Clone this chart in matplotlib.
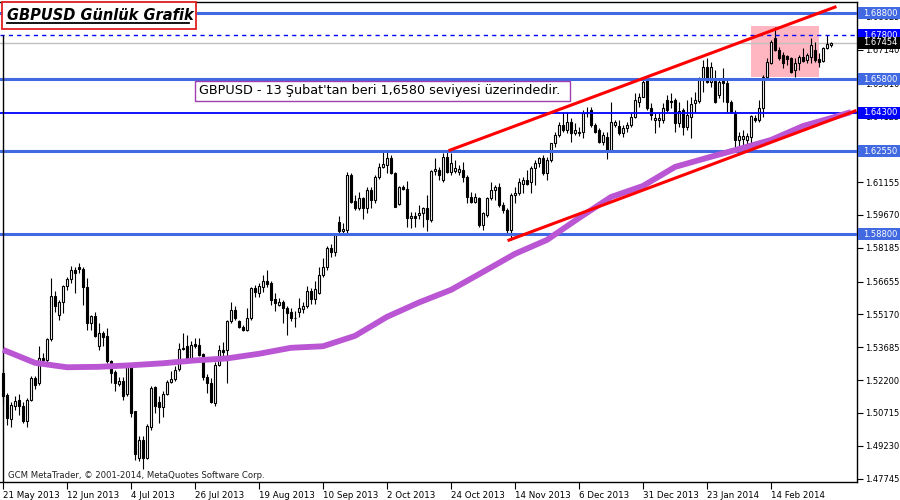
import numpy as np
import matplotlib
matplotlib.use("Agg")
import matplotlib.pyplot as plt
from matplotlib.patches import Rectangle
from matplotlib.lines import Line2D

plt.rcParams['font.family'] = ['DejaVu Sans']

# daily GBPUSD candles, 21 May 2013 .. early Mar 2014 (open, high, low, close)
opens = [1.5254, 1.5152, 1.5043, 1.5105, 1.5131, 1.5105, 1.5037, 1.5131, 1.5230, 1.5206,
         1.5319, 1.5309, 1.5405, 1.5601, 1.5514, 1.5571, 1.5646, 1.5676, 1.5719, 1.5731,
         1.5723, 1.5640, 1.5480, 1.5508, 1.5372, 1.5432, 1.5420, 1.5307, 1.5256, 1.5202,
         1.5217, 1.5156, 1.5282, 1.5078, 1.4867, 1.4950, 1.4867, 1.5010, 1.5187, 1.5120,
         1.5096, 1.5158, 1.5211, 1.5224, 1.5269, 1.5366, 1.5372, 1.5312, 1.5385, 1.5380,
         1.5339, 1.5236, 1.5209, 1.5116, 1.5289, 1.5357, 1.5357, 1.5485, 1.5535, 1.5488,
         1.5459, 1.5447, 1.5500, 1.5635, 1.5616, 1.5643, 1.5669, 1.5661, 1.5586, 1.5560,
         1.5572, 1.5545, 1.5527, 1.5500, 1.5530, 1.5540, 1.5553, 1.5625, 1.5586, 1.5616,
         1.5693, 1.5730, 1.5816, 1.5801, 1.5937, 1.5892, 1.5899, 1.6148, 1.6030, 1.5997,
         1.6042, 1.6000, 1.6080, 1.6035, 1.6140, 1.6182, 1.6193, 1.6223, 1.6155, 1.6017,
         1.6095, 1.6083, 1.5952, 1.5964, 1.5967, 1.5977, 1.5997, 1.5944, 1.6166, 1.6170,
         1.6125, 1.6231, 1.6163, 1.6167, 1.6163, 1.6170, 1.6140, 1.6050, 1.6027, 1.6042,
         1.5922, 1.5967, 1.6042, 1.6080, 1.6095, 1.6012, 1.5989, 1.5899, 1.6057, 1.6065,
         1.6109, 1.6124, 1.6117, 1.6178, 1.6200, 1.6223, 1.6155, 1.6216, 1.6291, 1.6329,
         1.6374, 1.6351, 1.6389, 1.6336, 1.6336, 1.6344, 1.6427, 1.6442, 1.6374, 1.6351,
         1.6298, 1.6321, 1.6261, 1.6374, 1.6369, 1.6336, 1.6359, 1.6374, 1.6411, 1.6479,
         1.6502, 1.6585, 1.6449, 1.6396, 1.6396, 1.6396, 1.6487, 1.6482, 1.6487, 1.6381,
         1.6441, 1.6366, 1.6411, 1.6472, 1.6484, 1.6577, 1.6637, 1.6570, 1.6574, 1.6509,
         1.6577, 1.6565, 1.6479, 1.6423, 1.6306, 1.6309, 1.6306, 1.6321, 1.6404, 1.6396,
         1.6449, 1.6589, 1.6656, 1.6765, 1.6713, 1.6690, 1.6686, 1.6675, 1.6622, 1.6653,
         1.6680, 1.6668, 1.6683, 1.6713, 1.6671, 1.6665, 1.6720, 1.6735]
highs = [1.5274, 1.5160, 1.5123, 1.5146, 1.5156, 1.5119, 1.5138, 1.5239, 1.5239, 1.5372,
         1.5342, 1.5410, 1.5682, 1.5621, 1.5583, 1.5651, 1.5688, 1.5738, 1.5731, 1.5749,
         1.5730, 1.5681, 1.5515, 1.5530, 1.5477, 1.5440, 1.5455, 1.5312, 1.5266, 1.5233,
         1.5236, 1.5297, 1.5297, 1.5081, 1.4965, 1.4965, 1.5022, 1.5191, 1.5191, 1.5146,
         1.5169, 1.5221, 1.5259, 1.5282, 1.5387, 1.5432, 1.5425, 1.5395, 1.5410, 1.5410,
         1.5342, 1.5248, 1.5229, 1.5300, 1.5379, 1.5390, 1.5493, 1.5572, 1.5553, 1.5493,
         1.5470, 1.5545, 1.5643, 1.5650, 1.5658, 1.5696, 1.5718, 1.5666, 1.5613, 1.5590,
         1.5583, 1.5553, 1.5545, 1.5534, 1.5590, 1.5571, 1.5646, 1.5635, 1.5666, 1.5730,
         1.5771, 1.5827, 1.5836, 1.5881, 1.5962, 1.5929, 1.6160, 1.6155, 1.6057, 1.6072,
         1.6050, 1.6095, 1.6095, 1.6148, 1.6201, 1.6250, 1.6253, 1.6238, 1.6163, 1.6098,
         1.6103, 1.6121, 1.5982, 1.5982, 1.6012, 1.6005, 1.6057, 1.6170, 1.6223, 1.6185,
         1.6246, 1.6253, 1.6246, 1.6215, 1.6193, 1.6208, 1.6148, 1.6072, 1.6065, 1.6050,
         1.5982, 1.6050, 1.6117, 1.6102, 1.6110, 1.6027, 1.5997, 1.6065, 1.6094, 1.6132,
         1.6140, 1.6170, 1.6188, 1.6215, 1.6230, 1.6238, 1.6230, 1.6294, 1.6344, 1.6389,
         1.6434, 1.6434, 1.6404, 1.6381, 1.6366, 1.6442, 1.6457, 1.6457, 1.6381, 1.6359,
         1.6344, 1.6344, 1.6479, 1.6396, 1.6396, 1.6374, 1.6389, 1.6426, 1.6517, 1.6517,
         1.6585, 1.6592, 1.6472, 1.6426, 1.6426, 1.6472, 1.6509, 1.6517, 1.6494, 1.6479,
         1.6449, 1.6487, 1.6502, 1.6524, 1.6589, 1.6667, 1.6675, 1.6660, 1.6622, 1.6585,
         1.6630, 1.6577, 1.6487, 1.6442, 1.6344, 1.6351, 1.6336, 1.6419, 1.6419, 1.6487,
         1.6600, 1.6675, 1.6758, 1.6815, 1.6728, 1.6705, 1.6690, 1.6683, 1.6675, 1.6690,
         1.6720, 1.6698, 1.6765, 1.6750, 1.6698, 1.6728, 1.6780, 1.6748]
lows = [1.5113, 1.5015, 1.5010, 1.5086, 1.5063, 1.5025, 1.5006, 1.5126, 1.5179, 1.5199,
        1.5297, 1.5300, 1.5395, 1.5530, 1.5493, 1.5523, 1.5628, 1.5658, 1.5613, 1.5704,
        1.5560, 1.5447, 1.5447, 1.5414, 1.5357, 1.5372, 1.5297, 1.5206, 1.5169, 1.5191,
        1.5131, 1.5150, 1.5052, 1.4860, 1.4852, 1.4817, 1.4863, 1.4995, 1.5071, 1.5025,
        1.5055, 1.5153, 1.5206, 1.5218, 1.5259, 1.5357, 1.5304, 1.5300, 1.5365, 1.5327,
        1.5221, 1.5161, 1.5116, 1.5101, 1.5282, 1.5327, 1.5206, 1.5480, 1.5493, 1.5455,
        1.5440, 1.5440, 1.5492, 1.5598, 1.5598, 1.5620, 1.5643, 1.5560, 1.5534, 1.5553,
        1.5480, 1.5424, 1.5485, 1.5458, 1.5507, 1.5522, 1.5545, 1.5563, 1.5565, 1.5610,
        1.5685, 1.5718, 1.5776, 1.5779, 1.5887, 1.5884, 1.5887, 1.6020, 1.5990, 1.5990,
        1.5949, 1.5977, 1.5997, 1.6020, 1.6128, 1.6178, 1.6155, 1.6151, 1.6002, 1.6012,
        1.6080, 1.5911, 1.5907, 1.5911, 1.5947, 1.5911, 1.5892, 1.5937, 1.6148, 1.6125,
        1.6118, 1.6155, 1.6148, 1.6155, 1.6148, 1.6118, 1.6020, 1.6020, 1.6020, 1.5914,
        1.5899, 1.5959, 1.6035, 1.6035, 1.6004, 1.5974, 1.5884, 1.5854, 1.6020, 1.6057,
        1.6065, 1.6102, 1.6065, 1.6102, 1.6185, 1.6148, 1.6125, 1.6208, 1.6276, 1.6321,
        1.6344, 1.6336, 1.6298, 1.6329, 1.6324, 1.6313, 1.6411, 1.6366, 1.6336, 1.6291,
        1.6283, 1.6218, 1.6253, 1.6366, 1.6329, 1.6321, 1.6344, 1.6366, 1.6404, 1.6457,
        1.6499, 1.6442, 1.6396, 1.6336, 1.6366, 1.6381, 1.6434, 1.6449, 1.6344, 1.6366,
        1.6329, 1.6351, 1.6313, 1.6430, 1.6472, 1.6524, 1.6562, 1.6547, 1.6472, 1.6494,
        1.6479, 1.6434, 1.6427, 1.6276, 1.6276, 1.6283, 1.6283, 1.6279, 1.6389, 1.6389,
        1.6411, 1.6577, 1.6649, 1.6710, 1.6667, 1.6630, 1.6645, 1.6610, 1.6589, 1.6622,
        1.6660, 1.6653, 1.6653, 1.6660, 1.6637, 1.6660, 1.6716, 1.6725]
closes = [1.5150, 1.5048, 1.5108, 1.5126, 1.5101, 1.5037, 1.5131, 1.5230, 1.5199, 1.5319,
          1.5309, 1.5405, 1.5601, 1.5553, 1.5574, 1.5646, 1.5676, 1.5719, 1.5704, 1.5722,
          1.5640, 1.5480, 1.5508, 1.5420, 1.5432, 1.5417, 1.5307, 1.5254, 1.5209, 1.5217,
          1.5150, 1.5282, 1.5071, 1.4885, 1.4950, 1.4867, 1.5013, 1.5184, 1.5105, 1.5096,
          1.5158, 1.5211, 1.5224, 1.5266, 1.5360, 1.5360, 1.5312, 1.5380, 1.5375, 1.5334,
          1.5236, 1.5206, 1.5123, 1.5289, 1.5357, 1.5349, 1.5485, 1.5535, 1.5500, 1.5459,
          1.5447, 1.5500, 1.5635, 1.5620, 1.5646, 1.5669, 1.5653, 1.5583, 1.5568, 1.5575,
          1.5545, 1.5525, 1.5500, 1.5499, 1.5545, 1.5556, 1.5625, 1.5586, 1.5631, 1.5696,
          1.5730, 1.5816, 1.5801, 1.5877, 1.5892, 1.5904, 1.6148, 1.6027, 1.5997, 1.6042,
          1.5997, 1.6080, 1.6035, 1.6140, 1.6182, 1.6197, 1.6223, 1.6155, 1.6005, 1.6095,
          1.6083, 1.5952, 1.5964, 1.5952, 1.5977, 1.5997, 1.5947, 1.6166, 1.6173, 1.6148,
          1.6231, 1.6163, 1.6200, 1.6178, 1.6173, 1.6140, 1.6050, 1.6027, 1.6050, 1.5922,
          1.5974, 1.6042, 1.6080, 1.6095, 1.6012, 1.5989, 1.5899, 1.6057, 1.6065, 1.6117,
          1.6124, 1.6109, 1.6178, 1.6200, 1.6223, 1.6155, 1.6216, 1.6291, 1.6329, 1.6374,
          1.6351, 1.6389, 1.6336, 1.6351, 1.6344, 1.6427, 1.6434, 1.6374, 1.6344, 1.6298,
          1.6329, 1.6261, 1.6389, 1.6389, 1.6336, 1.6359, 1.6374, 1.6411, 1.6487, 1.6499,
          1.6570, 1.6449, 1.6419, 1.6404, 1.6407, 1.6449, 1.6442, 1.6478, 1.6381, 1.6437,
          1.6366, 1.6419, 1.6469, 1.6487, 1.6580, 1.6637, 1.6570, 1.6637, 1.6479, 1.6570,
          1.6562, 1.6479, 1.6434, 1.6306, 1.6324, 1.6324, 1.6324, 1.6414, 1.6396, 1.6449,
          1.6592, 1.6660, 1.6750, 1.6713, 1.6675, 1.6653, 1.6671, 1.6615, 1.6653, 1.6680,
          1.6665, 1.6690, 1.6735, 1.6668, 1.6660, 1.6720, 1.6740, 1.6745]

# moving average (purple), sampled by bar number
ma_days = [0, 8, 16, 24, 32, 40, 48, 56, 64, 72, 80, 88, 96, 104, 112, 120, 128,
           136, 144, 152, 160, 168, 176, 184, 192, 200, 207, 212]
ma_vals = [1.5357, 1.5298, 1.5278, 1.5280, 1.5287, 1.5296, 1.5309, 1.5318, 1.5339,
           1.5366, 1.5373, 1.5420, 1.5506, 1.5571, 1.5628, 1.5709, 1.5791, 1.5854,
           1.5953, 1.6048, 1.6098, 1.6184, 1.6225, 1.6265, 1.6306, 1.6369, 1.6405, 1.6432]

date_days = [0, 16, 32, 48, 64, 80, 96, 112, 128, 144, 160, 176, 192]
date_labels = ['21 May 2013', '12 Jun 2013', '4 Jul 2013', '26 Jul 2013', '19 Aug 2013',
               '10 Sep 2013', '2 Oct 2013', '24 Oct 2013', '14 Nov 2013', '6 Dec 2013',
               '31 Dec 2013', '23 Jan 2014', '14 Feb 2014']
price_ticks = [1.47745, 1.49230, 1.50715, 1.52200, 1.53685, 1.55170, 1.56655, 1.58185,
               1.59670, 1.61155, 1.62640, 1.64125, 1.65610, 1.67140, 1.68625]

thick_levels = [1.6880, 1.6580, 1.6255, 1.5880]
thin_level = 1.6430
dash_level = 1.6780
last_price = 1.67454

upper_channel = ([111.75, 208], [1.6260, 1.6907])
lower_channel = ([126.5, 213], [1.5853, 1.6437])
box_days = (187, 204)
box_prices = (1.6591, 1.6821)

royal = '#4169E1'
blue = '#0000FF'

fig = plt.figure(figsize=(9, 5), dpi=100)
ax = fig.add_axes([0, 0.036, 0.9522, 0.96])
ax.set_xlim(-0.75, 213.5)
ax.set_ylim(1.4759, 1.6930)

o = np.array(opens); h = np.array(highs); l = np.array(lows); c = np.array(closes)
x = np.arange(len(c))
up = c >= o

ax.add_patch(Rectangle((box_days[0], box_prices[0]), box_days[1] - box_days[0],
                       box_prices[1] - box_prices[0], fc='#FFB6C1', ec='none', zorder=1))

ax.vlines(x, l, h, color='black', lw=0.8, zorder=3)
ax.bar(x[up], (c - o)[up], bottom=o[up], width=0.6, color='white', edgecolor='black',
       lw=0.8, zorder=4)
ax.bar(x[~up], (o - c)[~up], bottom=c[~up], width=0.6, color='black', edgecolor='black',
       lw=0.8, zorder=4)

for lev in thick_levels:
    ax.axhline(lev, color=royal, lw=2.2, zorder=6)
ax.axhline(thin_level, color=blue, lw=1.3, zorder=6)
ax.axhline(dash_level, color=blue, lw=1, dashes=(3, 3), zorder=6)
ax.axhline(last_price, color='#C0C0C0', lw=1, zorder=2)
ax.vlines(-0.05, ax.get_ylim()[0], dash_level, color='black', lw=1, zorder=6)

ax.plot(ma_days, ma_vals, color='#BA55D3', lw=4.2, solid_capstyle='butt', zorder=7)
ax.plot(*upper_channel, color='red', lw=2.2, zorder=8)
ax.plot(*lower_channel, color='red', lw=2.2, zorder=8)

ax.spines['left'].set_visible(False)
for s in ['top', 'right', 'bottom']:
    ax.spines[s].set_linewidth(1)

ax.yaxis.tick_right()
ax.set_yticks(price_ticks)
ax.set_yticklabels(['%.5f' % v for v in price_ticks])
ax.tick_params(axis='y', direction='out', length=4, width=0.8, labelsize=6.0, pad=1.5)
ax.set_xticks(date_days)
ax.set_xticklabels(date_labels)
ax.tick_params(axis='x', direction='out', length=5, width=0.8, labelsize=6.3, pad=1.5)
for lbl in ax.get_xticklabels():
    lbl.set_ha('left')

# price tags on the right
tags = [(1.6880, royal, '1.68800'), (dash_level, blue, '1.67800'),
        (last_price, 'black', '1.67454'), (1.6580, royal, '1.65800'),
        (thin_level, blue, '1.64300'), (1.6255, royal, '1.62550'),
        (1.5880, royal, '1.58800')]
tr = ax.get_yaxis_transform()
for p, col, txt in tags:
    ax.add_patch(Rectangle((1.0015, p - 0.0027), 0.05, 0.0054, transform=tr,
                           fc=col, ec='none', clip_on=False, zorder=20))
    ax.text(1.007, p, txt, transform=tr, color='white', fontsize=6.0, va='center',
            ha='left', zorder=21, clip_on=False)

# title
fig.add_artist(Rectangle((2 / 900, 1 - 29 / 500), 194 / 900, 27 / 500,
                         transform=fig.transFigure, fc='white', ec='#E02020', lw=1.3, zorder=30))
fig.text(7 / 900, 1 - 15 / 500, 'GBPUSD Günlük Grafik', fontsize=10.5, fontweight='bold',
         style='italic', va='center', ha='left', zorder=31)
fig.add_artist(Line2D([7 / 900, 189 / 900], [1 - 22.5 / 500] * 2, color='black', lw=1.3,
                      transform=fig.transFigure, zorder=31))

# comment box
fig.add_artist(Rectangle((195 / 900, 1 - 101 / 500), 375 / 900, 20 / 500,
                         transform=fig.transFigure, fc='white', ec='#A040B0', lw=1, zorder=30))
fig.text(199 / 900, 1 - 91 / 500, "GBPUSD - 13 Şubat'tan beri 1,6580 seviyesi üzerindedir.",
         fontsize=9.2, va='center', ha='left', zorder=31)

fig.text(8 / 900, 1 - 475 / 500, 'GCM MetaTrader, © 2001-2014, MetaQuotes Software Corp.',
         fontsize=6.1, va='center', ha='left', color='#202020')

fig.savefig('out.png', dpi=100)
